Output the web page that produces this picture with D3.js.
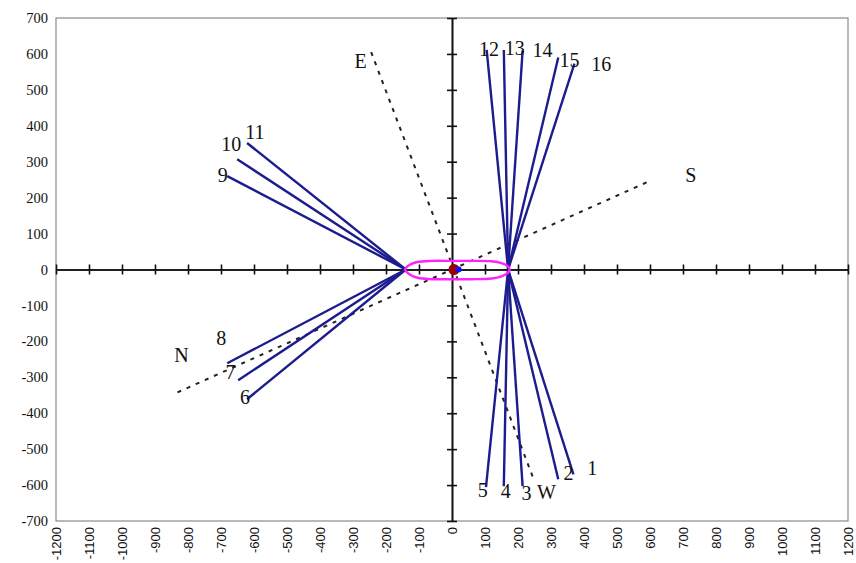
<!DOCTYPE html>
<html>
<head>
<meta charset="utf-8">
<script src="https://cdn.jsdelivr.net/npm/d3@7"></script>
<style>
  body { margin: 0; background: #fff; }
  svg { display: block; }
</style>
</head>
<body>
<div id="chart"></div>
<script>
// tick labels
const xTicks = [-1200, -1100, -1000, -900, -800, -700, -600, -500, -400, -300, -200, -100,
                0, 100, 200, 300, 400, 500, 600, 700, 800, 900, 1000, 1100, 1200];
const yTicks = [-700, -600, -500, -400, -300, -200, -100, 0, 100, 200, 300, 400, 500, 600, 700];

// the 16 solid lines: start (pivot) and end point
const lineIds = [1, 2, 3, 4, 5, 6, 7, 8, 9, 10, 11, 12, 13, 14, 15, 16];
const startX  = [170, 170, 170, 170, 170, -140, -140, -140, -140, -140, -140, 170, 170, 170, 170, 170];
const startY  = [0, 0, 0, 0, 0, 0, 0, 0, 0, 0, 0, 0, 0, 0, 0, 0];
const endX    = [368, 322, 214, 157, 103, -621, -648, -681, -681, -651, -621, 105, 157, 214, 322, 371];
const endY    = [-570, -584, -603, -603, -606, -361, -308, -261, 260, 307, 352, 611, 611, 609, 590, 573];

// number labels next to the lines
const labelX = [425, 353, 226, 163, 93, -627, -671, -699, -695, -669, -597, 112, 190, 274, 356, 452];
const labelY = [-552, -566, -622, -616, -613, -354, -285, -192, 263, 348, 382, 614, 616, 611, 582, 572];

// dashed direction lines
const dirNames = ["E-W", "N-S"];
const dirX1 = [-245, -832];
const dirY1 = [605, -342];
const dirX2 = [250, 591];
const dirY2 = [-590, 243];

// compass letters
const compass = ["E", "S", "N", "W"];
const compassX = [-277, 724, -820, 286];
const compassY = [580, 263, -238, -619];

// closed loop around the centre
const loopX = [-142, -128, -105, -60, 0, 60, 120, 150, 168, 175, 168, 150, 120, 60, 0, -60, -105, -128];
const loopY = [0, 13, 21, 24, 24, 24, 23, 18, 10, 0, -10, -19, -25, -27, -27, -27, -23, -14];

// centre dots
const dotX = [6, 20];
const dotY = [0, 0];
const dotR = [5.5, 3];
const dotColor = ["#a00000", "#1010ff"];

const width = 856, height = 563;
const margin = { left: 56, right: 8, top: 18, bottom: 42 };
const serif = "'Liberation Serif', 'Times New Roman', serif";
const sans = "'Liberation Sans', Arial, sans-serif";

const svg = d3.select("#chart").append("svg")
    .attr("width", width)
    .attr("height", height);

const x = d3.scaleLinear().domain([-1200, 1200]).range([margin.left, width - margin.right]);
const y = d3.scaleLinear().domain([-700, 700]).range([height - margin.bottom, margin.top]);

// plot frame
svg.append("rect")
    .attr("x", x(-1200))
    .attr("y", y(700))
    .attr("width", x(1200) - x(-1200))
    .attr("height", y(-700) - y(700))
    .attr("fill", "none")
    .attr("stroke", "#8a8a8a")
    .attr("stroke-width", 1.2);

// tick labels on the frame
const xLab = svg.append("g")
    .attr("transform", `translate(0, ${y(-700)})`)
    .call(d3.axisBottom(x).tickValues(xTicks).tickSize(0).tickFormat(d => String(d)));
xLab.select(".domain").remove();
xLab.selectAll("text")
    .attr("transform", "rotate(-90)")
    .attr("text-anchor", "end")
    .attr("x", -6)
    .attr("y", 0)
    .attr("dy", "0.35em")
    .attr("font-family", sans)
    .attr("font-size", 13)
    .attr("fill", "#111");

const yLab = svg.append("g")
    .attr("transform", `translate(${x(-1200) - 5}, 0)`)
    .call(d3.axisLeft(y).tickValues(yTicks).tickSize(0).tickFormat(d => String(d)));
yLab.select(".domain").remove();
yLab.selectAll("text")
    .attr("font-family", serif)
    .attr("font-size", 14.5)
    .attr("fill", "#111");

// crossing axes through the origin, ticks on both sides
function crossAxis(g) {
    g.selectAll(".domain").attr("stroke", "#111").attr("stroke-width", 1.6);
    g.selectAll(".tick line").attr("stroke", "#111").attr("stroke-width", 1.6);
    g.selectAll("text").remove();
}
svg.append("g")
    .attr("transform", `translate(0, ${y(0)})`)
    .call(d3.axisBottom(x).tickValues(xTicks).tickSize(5).tickSizeOuter(0))
    .call(crossAxis);
svg.append("g")
    .attr("transform", `translate(0, ${y(0)})`)
    .call(d3.axisTop(x).tickValues(xTicks).tickSize(5).tickSizeOuter(0))
    .call(crossAxis);
svg.append("g")
    .attr("transform", `translate(${x(0)}, 0)`)
    .call(d3.axisLeft(y).tickValues(yTicks).tickSize(5).tickSizeOuter(0))
    .call(crossAxis);
svg.append("g")
    .attr("transform", `translate(${x(0)}, 0)`)
    .call(d3.axisRight(y).tickValues(yTicks).tickSize(5).tickSizeOuter(0))
    .call(crossAxis);

// dashed direction lines
svg.selectAll(".dir")
    .data(dirNames)
    .enter()
    .append("line")
    .attr("class", "dir")
    .attr("x1", (d, i) => x(dirX1[i]))
    .attr("y1", (d, i) => y(dirY1[i]))
    .attr("x2", (d, i) => x(dirX2[i]))
    .attr("y2", (d, i) => y(dirY2[i]))
    .attr("stroke", "#222")
    .attr("stroke-width", 2)
    .attr("stroke-dasharray", "4,6");

// solid lines
svg.selectAll(".ray")
    .data(lineIds)
    .enter()
    .append("line")
    .attr("class", "ray")
    .attr("x1", (d, i) => x(startX[i]))
    .attr("y1", (d, i) => y(startY[i]))
    .attr("x2", (d, i) => x(endX[i]))
    .attr("y2", (d, i) => y(endY[i]))
    .attr("stroke", "#1c1c8e")
    .attr("stroke-width", 2.4);

// loop
const loopPts = loopX.map((v, i) => [v, loopY[i]]);
svg.append("path")
    .datum(loopPts)
    .attr("d", d3.line().x(d => x(d[0])).y(d => y(d[1])).curve(d3.curveCatmullRomClosed))
    .attr("fill", "none")
    .attr("stroke", "#ff22ff")
    .attr("stroke-width", 2.4);

// centre dots
svg.selectAll(".dot")
    .data(dotX)
    .enter()
    .append("circle")
    .attr("class", "dot")
    .attr("cx", (d, i) => x(dotX[i]))
    .attr("cy", (d, i) => y(dotY[i]))
    .attr("r", (d, i) => dotR[i])
    .attr("fill", (d, i) => dotColor[i]);

// number labels
svg.selectAll(".num")
    .data(lineIds)
    .enter()
    .append("text")
    .attr("class", "num")
    .attr("x", (d, i) => x(labelX[i]))
    .attr("y", (d, i) => y(labelY[i]))
    .attr("text-anchor", "middle")
    .attr("dy", "0.35em")
    .attr("font-family", serif)
    .attr("font-size", 20)
    .attr("fill", "#111")
    .text(d => d);

// compass letters
svg.selectAll(".cmp")
    .data(compass)
    .enter()
    .append("text")
    .attr("class", "cmp")
    .attr("x", (d, i) => x(compassX[i]))
    .attr("y", (d, i) => y(compassY[i]))
    .attr("text-anchor", "middle")
    .attr("dy", "0.35em")
    .attr("font-family", serif)
    .attr("font-size", 20)
    .attr("fill", "#111")
    .text(d => d);
</script>
</body>
</html>
